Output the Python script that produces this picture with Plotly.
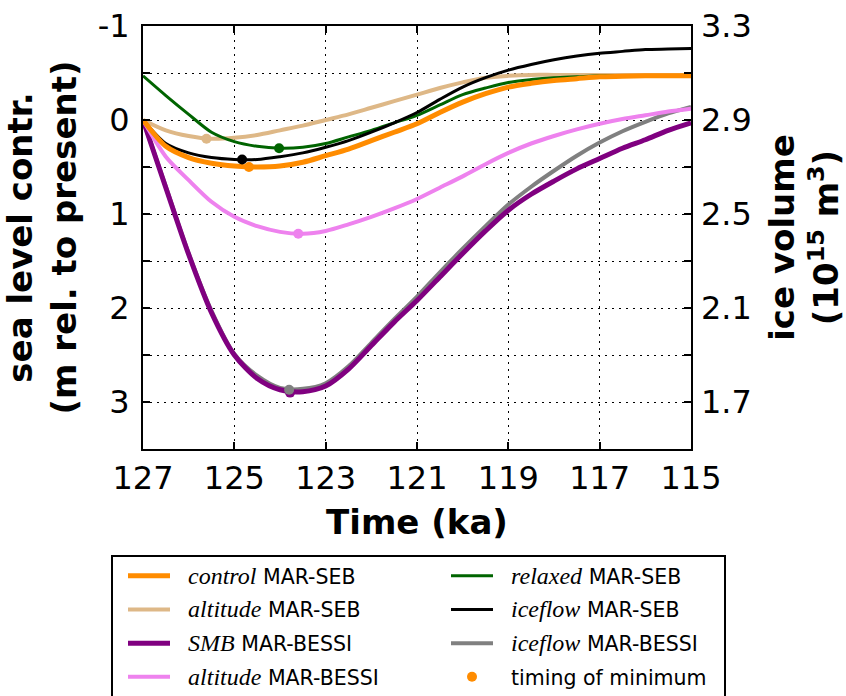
import plotly.graph_objects as go

# ---------------- data ----------------
time_ka = [127, 126.5, 126, 125.5, 125, 124.5, 124, 123.5, 123, 122.5, 122, 121.5,
           121, 120.5, 120, 119.5, 119, 118.5, 118, 117.5, 117, 116.5, 116, 115.5, 115]

control_seb = [0, 0.28, 0.40, 0.46, 0.49, 0.50, 0.49, 0.45, 0.38, 0.31, 0.22, 0.13,
               0.04, -0.08, -0.19, -0.28, -0.35, -0.39, -0.42, -0.44, -0.46, -0.465,
               -0.47, -0.47, -0.47]
altitude_seb = [0, 0.11, 0.17, 0.20, 0.19, 0.16, 0.11, 0.06, 0.00, -0.06, -0.13, -0.20,
                -0.27, -0.34, -0.40, -0.45, -0.47, -0.48, -0.48, -0.48, -0.48, -0.48,
                -0.48, -0.48, -0.48]
smb_bessi = [0, 0.72, 1.43, 2.05, 2.50, 2.75, 2.87, 2.89, 2.83, 2.65, 2.40, 2.15,
             1.92, 1.67, 1.42, 1.18, 0.96, 0.79, 0.65, 0.52, 0.41, 0.30, 0.21, 0.11, 0.03]
altitude_bessi = [0, 0.39, 0.64, 0.87, 1.03, 1.13, 1.19, 1.21, 1.18, 1.11, 1.03, 0.94,
                  0.84, 0.72, 0.60, 0.47, 0.35, 0.25, 0.17, 0.10, 0.04, -0.01, -0.05,
                  -0.09, -0.12]
relaxed_seb = [-0.47, -0.26, -0.06, 0.13, 0.23, 0.28, 0.30, 0.29, 0.25, 0.18, 0.11, 0.03,
               -0.05, -0.16, -0.27, -0.34, -0.40, -0.43, -0.45, -0.46, -0.47, -0.47,
               -0.47, -0.47, -0.47]
iceflow_seb = [0, 0.25, 0.35, 0.40, 0.42, 0.42, 0.39, 0.35, 0.29, 0.22, 0.13, 0.03,
               -0.08, -0.22, -0.35, -0.45, -0.53, -0.59, -0.64, -0.68, -0.71, -0.73,
               -0.75, -0.755, -0.76]
iceflow_bessi = [0, 0.71, 1.42, 2.03, 2.49, 2.72, 2.85, 2.86, 2.80, 2.62, 2.37, 2.12,
                 1.88, 1.62, 1.37, 1.13, 0.90, 0.71, 0.54, 0.38, 0.24, 0.12, 0.02,
                 -0.07, -0.14]

# timing of minimum (ka) and value at minimum, per experiment
min_names = ["control_seb", "altitude_seb", "smb_bessi", "altitude_bessi",
             "relaxed_seb", "iceflow_seb", "iceflow_bessi"]
min_time = [124.68, 125.61, 123.78, 123.6, 124.02, 124.83, 123.8]
min_value = [0.50, 0.20, 2.90, 1.21, 0.30, 0.42, 2.87]

x_ticks = [127, 125, 123, 121, 119, 117, 115]
y_ticks = [-1, 0, 1, 2, 3]
y_ticktext = ["-1", "0", "1", "2", "3"]
y_minor = [-0.5, 0.5, 1.5, 2.5, 3.5]
y2_ticks = [1.7, 2.1, 2.5, 2.9, 3.3]

# ---------------- styling ----------------
SERIF = "font-family:Liberation Serif;font-size:24px"
PAD = "\u00a0\u00a0"


def lab(it, rest):
    return f'{PAD}<i><span style="{SERIF}">{it}</span></i> {rest}'


series = {
    "iceflow_bessi": dict(y=iceflow_bessi, color="#808080", width=4,
                          name=lab("iceflow", "MAR-BESSI"), legend="legend2", rank=3),
    "smb_bessi": dict(y=smb_bessi, color="#800080", width=5,
                      name=lab("SMB", "MAR-BESSI"), legend="legend", rank=3),
    "altitude_bessi": dict(y=altitude_bessi, color="#EE82EE", width=4,
                           name=lab("altitude", "MAR-BESSI"), legend="legend", rank=4),
    "altitude_seb": dict(y=altitude_seb, color="#DEB887", width=4,
                         name=lab("altitude", "MAR-SEB"), legend="legend", rank=2),
    "relaxed_seb": dict(y=relaxed_seb, color="#006400", width=3,
                        name=lab("relaxed", "MAR-SEB"), legend="legend2", rank=1),
    "iceflow_seb": dict(y=iceflow_seb, color="#000000", width=3,
                        name=lab("iceflow", "MAR-SEB"), legend="legend2", rank=2),
    "control_seb": dict(y=control_seb, color="#FF8C00", width=5,
                        name=lab("control", "MAR-SEB"), legend="legend", rank=1),
}

fig = go.Figure()
for key, s in series.items():
    fig.add_trace(go.Scatter(
        x=time_ka, y=s["y"], mode="lines", name=s["name"],
        line=dict(color=s["color"], width=s["width"], shape="spline", smoothing=0.8),
        legend=s["legend"], legendgroup=key, legendrank=s["rank"],
    ))

for key, t, v in zip(min_names, min_time, min_value):
    s = series[key]
    is_leg = key == "control_seb"
    fig.add_trace(go.Scatter(
        x=[t], y=[v], mode="markers",
        marker=dict(color=s["color"], size=10),
        name=PAD + "timing of minimum", showlegend=is_leg,
        legend="legend2", legendgroup="timing", legendrank=4,
    ))

# empty trace so that the ice-volume axis is drawn
fig.add_trace(go.Scatter(x=[None], y=[None], yaxis="y2", mode="lines",
                         showlegend=False, hoverinfo="skip"))

TICKFONT = dict(family="DejaVu Sans", size=32, color="black")
TITLEFONT = dict(family="DejaVu Sans", size=34, color="black")
GRID = dict(showgrid=True, gridcolor="black", gridwidth=1, griddash="2px,5px")
LEGFONT = dict(family="DejaVu Sans", size=20.5, color="black")

fig.update_layout(
    width=846, height=696,
    margin=dict(l=143, r=155, t=26, b=247, autoexpand=False),
    plot_bgcolor="white", paper_bgcolor="white",
    font=dict(family="DejaVu Sans", color="black"),
    xaxis=dict(
        range=[127, 115], tickvals=x_ticks, ticks="inside", ticklen=7,
        tickwidth=1.5, tickcolor="black", showline=True, linewidth=2,
        linecolor="black", mirror="ticks", zeroline=False, tickfont=TICKFONT,
        title=dict(text="<b>Time (ka)</b>", font=TITLEFONT, standoff=14),
        **GRID,
    ),
    yaxis=dict(
        range=[3.5, -1], tickvals=y_ticks, ticktext=y_ticktext,
        ticks="inside", ticklen=7, tickwidth=1.5, tickcolor="black",
        showline=True, linewidth=2, linecolor="black", mirror="ticks",
        zeroline=False, tickfont=TICKFONT, ticklabelstandoff=5,
        minor=dict(tickvals=y_minor, ticks="inside", ticklen=7, tickwidth=1.5,
                   tickcolor="black", **GRID),
        title=dict(text="<b>sea level contr.</b><br><b>(m rel. to present)</b>",
                   font=TITLEFONT, standoff=14),
        **GRID,
    ),
    yaxis2=dict(
        range=[1.5, 3.3], tickvals=y2_ticks, overlaying="y", side="right",
        anchor="x", ticks="", showgrid=False, zeroline=False, showline=False,
        tickfont=TICKFONT, ticklabelstandoff=9,
        title=dict(text="<b>ice volume</b><br><b>(10<sup>15</sup> m<sup>3</sup>)</b>",
                   font=TITLEFONT, standoff=19),
    ),
    legend=dict(
        x=(123 - 143) / 548, y=(449 - 556) / 423, xanchor="left", yanchor="top",
        orientation="v", traceorder="grouped", tracegroupgap=4, itemwidth=42,
        font=LEGFONT, bgcolor="rgba(0,0,0,0)", borderwidth=0,
    ),
    legend2=dict(
        x=(446 - 143) / 548, y=(449 - 556) / 423, xanchor="left", yanchor="top",
        orientation="v", traceorder="grouped", tracegroupgap=4, itemwidth=42,
        font=LEGFONT, bgcolor="rgba(0,0,0,0)", borderwidth=0,
    ),
    shapes=[dict(
        type="rect", xref="paper", yref="paper",
        x0=(112 - 143) / 548, x1=(725 - 143) / 548,
        y0=(449 - 702) / 423, y1=(449 - 556) / 423,
        line=dict(color="black", width=2), fillcolor="rgba(0,0,0,0)", layer="above",
    )],
)

fig.write_html("out.html", config={"displayModeBar": False},
               post_script="document.body.style.margin='0';")
